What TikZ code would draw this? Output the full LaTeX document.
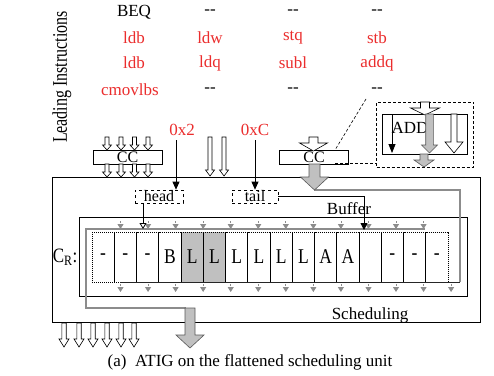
\documentclass[tikz,border=0pt]{standalone}
\usepackage{fontspec}
\setmainfont{Liberation Serif}
\usetikzlibrary{arrows.meta}
\definecolor{ired}{RGB}{235,45,45}
\definecolor{lgray}{RGB}{192,192,192}
\definecolor{mgray}{RGB}{140,140,140}
\newcommand{\vArrow}[7]{\draw[#1] ({#2-#5},#3) -- ({#2-#5},{#4-#7}) -- ({#2-#6},{#4-#7}) -- (#2,#4) -- ({#2+#6},{#4-#7}) -- ({#2+#5},{#4-#7}) -- ({#2+#5},#3) -- cycle;}
\newcommand{\talltext}[1]{\scalebox{1}[1.2]{#1}}
\begin{document}
\begin{tikzpicture}[x=1pt,y=-1pt,
  txt/.style={font=\fontsize{17}{19}\selectfont, inner sep=0pt},
  rtxt/.style={txt, text=ired},
  cellbox/.style={draw, densely dotted, line width=1pt, minimum width=22.25pt, minimum height=50pt, inner sep=0pt, font=\fontsize{17.5}{20}\selectfont},
  ccbox/.style={draw, fill=white, line width=0.7pt, minimum width=69pt, minimum height=14pt, inner sep=0pt, text height=11pt, text depth=1pt, font=\fontsize{16}{18}\selectfont},
  ptrbox/.style={draw, dashed, line width=0.7pt, minimum height=13pt, inner sep=0pt, text height=10pt, text depth=1pt, font=\fontsize{16}{18}\selectfont},
  frame/.style={line width=0.75pt},
  gline/.style={draw=mgray, line width=1.3pt},
  sarr/.style={mgray, dash pattern=on 2pt off 1pt, line width=0.8pt, -{Triangle[width=6pt,length=5pt]}},
  hollow/.style={draw=black, fill=white, line width=0.6pt},
  solidg/.style={draw=black!65, fill=lgray, line width=0.6pt},
  ptr/.style={line width=0.8pt, -{Triangle[width=7pt,length=8pt]}},
  ldash/.style={dashed, dash pattern=on 3pt off 2pt, line width=0.6pt},
]
\useasboundingbox (0,0) rectangle (494,375);
\fill[white] (0,0) rectangle (494,375);

% leading instructions
\node[txt, rotate=90, font=\fontsize{16}{18}\selectfont] (lead) at (62,77) {\scalebox{1}[1.3]{Leading Instructions}};
\node[txt] (i11) at (134,12) {BEQ};
\node[txt] (i12) at (210,12) {-{}-};
\node[txt] (i13) at (293,12) {-{}-};
\node[txt] (i14) at (377,12) {-{}-};
\node[rtxt] (i21) at (134,38) {ldb};
\node[rtxt] (i22) at (210,38) {ldw};
\node[rtxt] (i23) at (293,38) {stq};
\node[rtxt] (i24) at (377,38) {stb};
\node[rtxt] (i31) at (134,63) {ldb};
\node[rtxt] (i32) at (210,63) {ldq};
\node[rtxt] (i33) at (293,63) {subl};
\node[rtxt] (i34) at (377,63) {addq};
\node[rtxt] (i41) at (130,90) {cmovlbs};
\node[txt] (i42) at (210,90) {-{}-};
\node[txt] (i43) at (293,90) {-{}-};
\node[txt] (i44) at (377,90) {-{}-};

\node[rtxt] (h2) at (182,130) {0x2};
\node[rtxt] (tC) at (255,130) {0xC};

% frames
\draw[frame] (52,177) rectangle (480,322);
\draw[frame] (79,217) rectangle (467,296);
\node[txt] (buf) at (349,209) {Buffer};
\node[txt] (sch) at (370,315) {Scheduling};
\node[txt] (cr) at (65,257) {\talltext{C\textsubscript{R}:}};

% gray paths
\draw[gline] (314,190) -- (460,190) -- (460,282);
\draw[gline] (425,229) -- (86,229) -- (86,308) -- (186,308);

% cells
\fill[lgray] (181,232) rectangle (225.5,282);
\foreach \i/\t in {0/-,1/-,2/-,3/B,4/L,5/L,6/L,7/L,8/L,9/L,10/A,11/A,12/{},13/-,14/-,15/-}
  {\node[cellbox] (c\i) at ({92+22.25*\i+11.125},257) {\talltext{\t}};}
\draw[line width=0.9pt, black!85] (460,282) -- (120,282);

% small gray arrows
\foreach \k in {0,...,11} {\draw[sarr] ({120.5+27.55*\k},221) -- ++(0,8);}
\foreach \k in {0,...,12} {\draw[sarr] ({120.5+27.55*\k},284) -- ++(0,8);}

% CC boxes
\node[ccbox] (cc1) at (127.5,157) {CC};
\node[ccbox] (cc2) at (314,157) {CC};

\foreach \x in {107,121,134.5,148} {
  \vArrow{hollow}{\x}{137}{150}{2}{4.5}{5}
  \vArrow{hollow}{\x}{164}{177}{2}{4.5}{5}
}
\foreach \x in {210,224} {\vArrow{hollow}{\x}{137}{176}{2}{4.5}{6}}
\foreach \x in {64,79,93,107,121,134} {\vArrow{hollow}{\x}{323}{347}{2.2}{5}{8}}

\vArrow{hollow}{313.5}{137}{151}{4.5}{14}{8}
\vArrow{solidg}{314.5}{164}{190}{5.5}{14}{13}
\vArrow{solidg}{190}{308}{348}{5}{14}{13}

% pointers
\node[ptrbox, minimum width=48pt] (head) at (159,196.5) {head};
\node[ptrbox, minimum width=46pt] (tail) at (255,196.5) {tail};
\coordinate (h2s) at (176,140);
\coordinate (tCs) at (255,140);
\draw[ptr] (h2s) -- (h2s |- head.north);
\draw[ptr] (tCs) -- (tCs |- tail.north);
\coordinate (hp) at (143,229);
\draw[line width=0.8pt, -{Triangle[open,width=7pt,length=6pt]}] (hp |- head.south) -- (hp);
\coordinate (tp) at (364,230);
\draw[line width=0.8pt, -{Triangle[width=7pt,length=7pt]}] (tail.east) -| (tp);

% inset
\coordinate (d1) at (366,99);
\coordinate (d2) at (335,150);
\draw[ldash] (d1) -- (d2);
\node[draw, ldash, minimum width=97pt, minimum height=65pt, inner sep=0pt] (inset) at (425,134.5) {};
\coordinate (d3) at (335,163.5);
\draw[ldash] (d3) -- (d3 -| inset.west);
\node[draw, fill=white, line width=0.7pt, minimum width=85pt, minimum height=40pt, inner sep=0pt] (addbox) at (424.5,134) {};
\node[txt] (add) at (410,128) {ADD};
\vArrow{hollow}{425}{102}{115}{4.5}{14.5}{7}
\draw[line width=0.8pt, -{Triangle[width=7pt,length=9pt]}] (392,114) -- (392,153);
\vArrow{solidg}{429.5}{114}{153}{3.8}{8}{8}
\vArrow{hollow}{454}{114}{153}{3}{9}{11}
\vArrow{solidg}{424}{154}{167}{4}{10}{7}

% caption
\node[txt] (cap) at (250,362) {(a)\ \ ATIG on the flattened scheduling unit};
\end{tikzpicture}
\end{document}
